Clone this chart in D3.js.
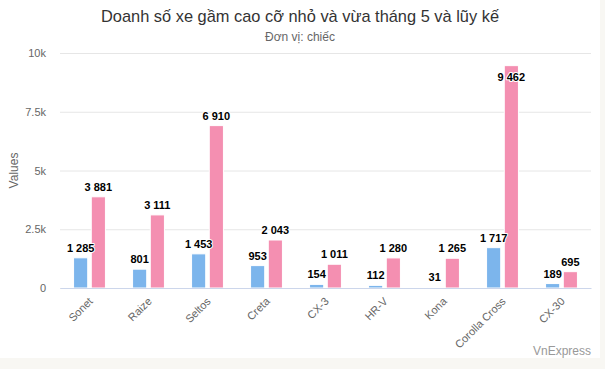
<!DOCTYPE html>
<html><head><meta charset="utf-8">
<script src="https://cdn.jsdelivr.net/npm/d3@7"></script>
<style>
html,body{margin:0;padding:0;background:#f8f7f3;}
svg{display:block;font-family:Arial,"Liberation Sans",sans-serif;}
</style></head><body>
<svg id="c" width="605" height="369"></svg>
<script>
const categories = ["Sonet","Raize","Seltos","Creta","CX-3","HR-V","Kona","Corolla Cross","CX-30"];
const thang5 = [1285, 801, 1453, 953, 154, 112, 31, 1717, 189];
const luyKe = [3881, 3111, 6910, 2043, 1011, 1280, 1265, 9462, 695];
const yTicks = [0, 2500, 5000, 7500, 10000];
const yTickLabels = ["0", "2.5k", "5k", "7.5k", "10k"];
const seriesColors = ["#7cb5ec", "#f48fb1"];
const title = "Doanh số xe gầm cao cỡ nhỏ và vừa tháng 5 và lũy kế";
const subtitle = "Đơn vị: chiếc";

const svg = d3.select("#c");
svg.append("rect").attr("x",0).attr("y",0).attr("width",600).attr("height",358).attr("fill","#ffffff");

const m = {left:60, right:591, top:53, bottom:288};
const x = d3.scaleBand().domain(categories).range([m.left, m.right]).paddingInner(0).paddingOuter(0);
const y = d3.scaleLinear().domain([0, 10000]).range([m.bottom, m.top]);
const series = [thang5, luyKe];
const bw = x.bandwidth();
const slot = bw*0.6/2;
const barW = slot*0.8;
function barX(i, s){ return x(categories[i]) + bw*0.2 + s*slot + slot*0.1; }

// title
svg.append("text").attr("x",300).attr("y",22).attr("text-anchor","middle")
  .attr("font-size",16.4).attr("fill","#333333").text(title);
svg.append("text").attr("x",300).attr("y",41).attr("text-anchor","middle")
  .attr("font-size",12).attr("fill","#666666").text(subtitle);

// grid
const yAxis = d3.axisLeft(y).tickValues(yTicks).tickSize(-(m.right-m.left)).tickFormat((d,i)=>yTickLabels[i]);
const gy = svg.append("g").attr("transform",`translate(${m.left},0)`).call(yAxis);
gy.select(".domain").remove();
gy.selectAll(".tick line").attr("stroke","#e6e6e6");
gy.selectAll(".tick text").attr("fill","#666666").attr("font-size",11).attr("x",-14).attr("dy","0.32em");

svg.append("text").attr("transform",`translate(18,${(m.top+m.bottom)/2}) rotate(-90)`)
  .attr("text-anchor","middle").attr("font-size",12).attr("fill","#666666").text("Values");

// bars
series.forEach((vals, s) => {
  svg.append("g").selectAll("rect").data(vals).join("rect")
    .attr("x",(d,i)=>barX(i,s)).attr("width",barW)
    .attr("y",d=>y(d)).attr("height",d=>m.bottom-y(d))
    .attr("fill",seriesColors[s]).attr("stroke","#ffffff").attr("stroke-width",1);
});

// x axis
const gx = svg.append("g").attr("transform",`translate(0,${m.bottom})`)
  .call(d3.axisBottom(x).tickSize(0).tickFormat(d=>d));
gx.select(".domain").attr("stroke","#ccd6eb");
gx.selectAll(".tick text").attr("fill","#666666").attr("font-size",11)
  .attr("text-anchor","end").attr("dy",0).attr("y",0)
  .attr("transform","translate(4,14) rotate(-45)");

// labels
const fmt = v => d3.format(",")(v).replace(/,/g," ");
series.forEach((vals, s) => {
  svg.append("g").selectAll("text").data(vals).join("text")
    .attr("x",(d,i)=>barX(i,s)+barW/2)
    .attr("y",d=> (y(d)-17 < m.top) ? y(d)+15 : y(d)-6)
    .attr("text-anchor","middle").attr("font-size",11).attr("font-weight","bold")
    .attr("fill","#000000").attr("stroke","#ffffff").attr("stroke-width",2)
    .attr("paint-order","stroke").attr("stroke-linejoin","round")
    .text(d=>fmt(d));
});

svg.append("text").attr("x",591).attr("y",355).attr("text-anchor","end")
  .attr("font-size",12).attr("fill","#999999").text("VnExpress");
</script>
</body></html>
